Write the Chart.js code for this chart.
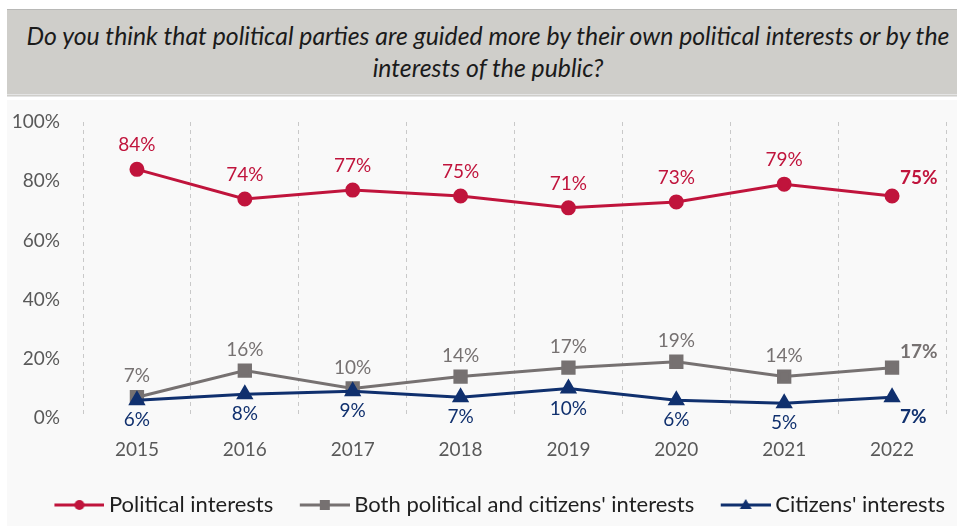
<!DOCTYPE html>
<html>
<head>
<meta charset="utf-8">
<script src="https://cdn.jsdelivr.net/npm/chart.js@4.4.1/dist/chart.umd.min.js"></script>
<style>
  html, body { margin: 0; padding: 0; background: #ffffff; }
  body { width: 957px; height: 526px; position: relative; overflow: hidden; font-family: Lato, "Open Sans", sans-serif; }
  #title {
    position: absolute; left: 7px; top: 9px; width: 950px; height: 88px;
    background: #cfceca; border-top: 1px solid #b8b8b6;
    border-bottom: 3px double #e4e4e4;
    color: #1b1b1b; font-style: italic; font-size: 24.8px; line-height: 32px;
    text-align: center; box-sizing: border-box; padding: 10px 0 0 12px;
  }
  #panel { position: absolute; left: 7px; top: 100px; width: 950px; height: 426px; background: #f9f9f9; }
</style>
</head>
<body>
<div id="title">Do you think that political parties are guided more by their own political interests or by the<br>interests of the public?</div>
<div id="panel"><canvas id="chart" width="950" height="426"></canvas></div>
<script>
const years = ['2015', '2016', '2017', '2018', '2019', '2020', '2021', '2022'];
const political = [84, 74, 77, 75, 71, 73, 79, 75];
const both = [7, 16, 10, 14, 17, 19, 14, 17];
const citizens = [6, 8, 9, 7, 10, 6, 5, 7];
const yTicks = [0, 20, 40, 60, 80, 100];

const RED = '#c0143c', GREY = '#767171', NAVY = '#10306e';

// line-with-marker swatch for the legend; blank margin on the left
// keeps the gap after the previous item's text
function swatch(color, shape) {
  const c = document.createElement('canvas');
  c.width = 71; c.height = 16;
  const g = c.getContext('2d');
  const x0 = 21, mid = x0 + 25;
  g.strokeStyle = color; g.lineWidth = 3;
  g.beginPath(); g.moveTo(x0, 8); g.lineTo(x0 + 50, 8); g.stroke();
  g.fillStyle = color;
  g.beginPath();
  if (shape === 'circle') g.arc(mid, 8, 5, 0, Math.PI * 2);
  else if (shape === 'rect') g.rect(mid - 5, 3, 10, 10);
  else { g.moveTo(mid, 2); g.lineTo(mid + 6, 12); g.lineTo(mid - 6, 12); g.closePath(); }
  g.fill();
  return c;
}

// value labels drawn next to every point
const pointLabels = {
  id: 'pointLabels',
  afterDatasetsDraw(chart) {
    const ctx = chart.ctx;
    chart.data.datasets.forEach((ds, di) => {
      const meta = chart.getDatasetMeta(di);
      const cfg = ds.labelCfg;
      meta.data.forEach((pt, i) => {
        const last = i === meta.data.length - 1;
        ctx.save();
        ctx.fillStyle = ds.borderColor;
        ctx.textBaseline = 'middle';
        if (last) {
          ctx.font = 'bold 19px Lato, sans-serif';
          ctx.textAlign = 'left';
          ctx.fillText(ds.data[i] + '%', pt.x + 8, pt.y + cfg.lastDy);
        } else {
          ctx.font = '19px Lato, sans-serif';
          ctx.textAlign = 'center';
          ctx.fillText(ds.data[i] + '%', pt.x, pt.y + cfg.dy);
        }
        ctx.restore();
      });
    });
  }
};

new Chart(document.getElementById('chart'), {
  type: 'line',
  data: {
    labels: years,
    datasets: [
      {
        label: 'Political interests', data: political,
        borderColor: RED, backgroundColor: RED, borderWidth: 3,
        pointStyle: 'circle', pointRadius: 6, order: 2,
        legendSwatch: swatch(RED, 'circle'), labelCfg: { dy: -24, lastDy: -18 }
      },
      {
        label: "Both political and citizens' interests", data: both,
        borderColor: GREY, backgroundColor: GREY, borderWidth: 3,
        pointStyle: 'rect', pointRadius: 8, order: 1,
        legendSwatch: swatch(GREY, 'rect'), labelCfg: { dy: -21, lastDy: -16 }
      },
      {
        label: "Citizens' interests", data: citizens,
        borderColor: NAVY, backgroundColor: NAVY, borderWidth: 3,
        pointStyle: 'triangle', pointRadius: 7, order: 0,
        legendSwatch: swatch(NAVY, 'triangle'), labelCfg: { dy: 20, lastDy: 20 }
      }
    ]
  },
  options: {
    responsive: false,
    animation: false,
    layout: { padding: { top: 22, right: 0, left: 0, bottom: 0 } },
    scales: {
      x: {
        offset: true,
        grid: { display: true, offset: true, color: '#c9c9c9', lineWidth: 1, drawTicks: false },
        border: { display: false, dash: [4, 4] },
        ticks: { color: '#595959', font: { family: 'Lato', size: 19 }, padding: 20 },
        afterFit: s => { s.height = 64; }
      },
      y: {
        min: 0, max: 100,
        afterBuildTicks: s => { s.ticks = yTicks.map(v => ({ value: v })); },
        grid: { display: false, drawTicks: false },
        border: { display: false },
        ticks: { color: '#595959', font: { family: 'Lato', size: 19 }, padding: 23, callback: v => v + '%' },
        afterFit: s => { s.width = 76; s.paddingTop = 0; s.paddingBottom = 0; }
      }
    },
    plugins: {
      tooltip: { enabled: false },
      legend: {
        position: 'bottom',
        align: 'end',
        labels: {
          usePointStyle: true,
          pointStyleWidth: 58,
          padding: 12,
          color: '#1f1f1f',
          font: { family: 'Lato', size: 22 },
          generateLabels: chart => chart.data.datasets.map((ds, i) => ({
            text: ds.label,
            pointStyle: ds.legendSwatch,
            fillStyle: ds.borderColor,
            strokeStyle: ds.borderColor,
            fontColor: '#1f1f1f',
            lineWidth: 0,
            hidden: false,
            datasetIndex: i
          }))
        }
      }
    }
  },
  plugins: [pointLabels]
});
</script>
</body>
</html>
